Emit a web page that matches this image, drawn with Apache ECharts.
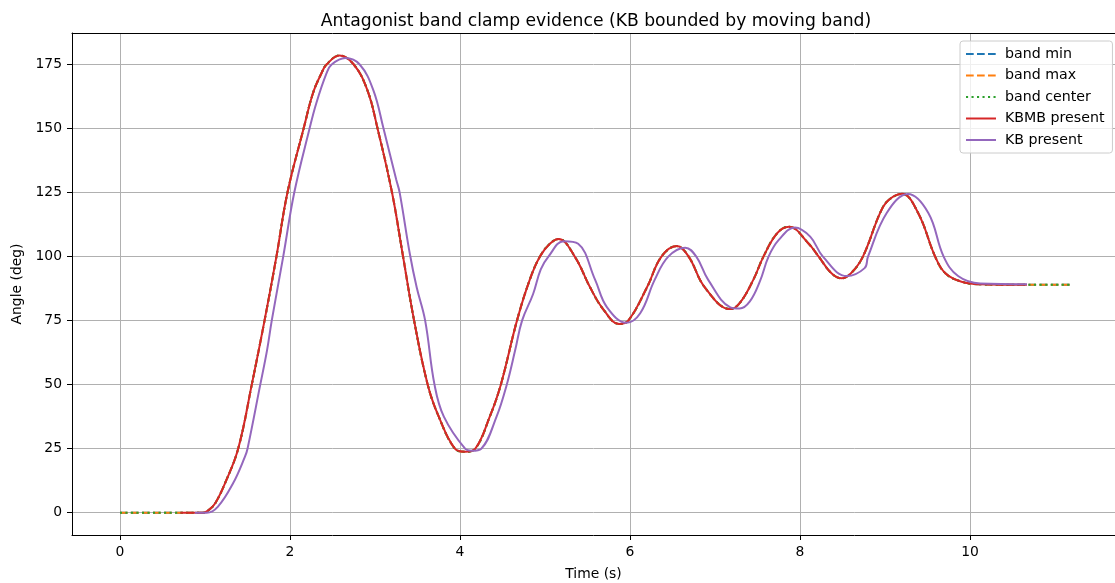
<!DOCTYPE html>
<html>
<head>
<meta charset="utf-8">
<script src="https://cdn.jsdelivr.net/npm/echarts@6/dist/echarts.min.js"></script>
<style>
  html, body { margin: 0; padding: 0; background: #fff; }
  #chart { width: 1115px; height: 583px; }
</style>
</head>
<body>
<div id="chart"></div>
<script>
// values (time in s, angle in deg)
const kbmbTime = [0.71, 0.98, 1.05, 1.12, 1.235, 1.39, 1.55, 1.70, 1.84, 1.97, 2.16, 2.27, 2.37, 2.43, 2.58, 2.75, 2.91,
  3.03, 3.20, 3.33, 3.46, 3.62, 3.75, 3.94, 4.06, 4.18, 4.35, 4.48, 4.67, 4.82, 4.94, 5.06, 5.16, 5.35, 5.53, 5.69,
  5.87, 5.98, 6.20, 6.37, 6.55, 6.69, 6.88, 7.18, 7.29, 7.45, 7.57, 7.73, 7.87, 8.10, 8.22, 8.37, 8.49, 8.60, 8.74,
  8.94, 9.04, 9.20, 9.39, 9.59, 9.71, 9.90, 10.12, 10.67];
const kbmbAngle = [0, 0, 1.2, 3.7, 11.5, 25, 50, 75, 100, 125, 150, 163.8, 171.6, 175, 178.5, 175, 165,
  150, 125, 100, 75, 50, 37.5, 25, 23.8, 25, 37.5, 50, 75, 90.9, 100, 105.1, 106.9, 100, 88, 79.2,
  73.7, 75, 88, 100, 104.1, 100, 88, 79.5, 81.8, 90.9, 100, 109.1, 111.7, 105.1, 100, 93.5, 91.5, 93.5, 100,
  116.9, 122, 124.5, 117, 100, 93.5, 90.2, 89.2, 89];

const kbTime = [0.88, 1.02, 1.15, 1.33, 1.47, 1.50, 1.65, 1.73, 1.785, 1.92, 2.05, 2.23, 2.31, 2.43, 2.49, 2.65, 2.82,
  2.98, 3.10, 3.25, 3.29, 3.41, 3.49, 3.59, 3.70, 3.81, 4.06, 4.14, 4.25, 4.43, 4.55, 4.65, 4.73, 4.86, 4.95, 5.04,
  5.22, 5.39, 5.59, 5.73, 5.96, 6.12, 6.29, 6.45, 6.65, 6.78, 6.92, 7.18, 7.29, 7.41, 7.53, 7.63, 7.75, 7.94, 8.12,
  8.27, 8.55, 8.76, 8.80, 9.02, 9.27, 9.51, 9.69, 9.86, 10.12, 10.67];
const kbAngle = [0, 0, 2.3, 11.5, 21.9, 25, 50, 63.5, 75, 100, 125, 150, 160, 171.6, 175, 177.5, 175,
  165, 150, 130, 125, 101, 88, 75, 50, 37.5, 25, 24.2, 25, 37.5, 50, 63.6, 75, 85.4, 95, 100,
  106, 105, 90.9, 80.2, 74.2, 77.9, 90.9, 100, 103.5, 100, 90.9, 80.2, 79.7, 82.5, 90.5, 100, 106.5, 111.4, 107.8,
  100, 92.4, 95.5, 100, 117, 124.4, 117, 100, 92.4, 89.5, 89.2];

// band is only visible where the KBMB trace is absent
const bandStart = [0, 0];
const bandEnd = [11.2, 89];

const xTicks = [0, 2, 4, 6, 8, 10];
const yTicks = [0, 25, 50, 75, 100, 125, 150, 175];

const pairs = (ts, vs) => ts.map((t, i) => [t, vs[i]]);
const kbmbData = pairs(kbmbTime, kbmbAngle);
const kbData = pairs(kbTime, kbAngle);
const bandData = [bandStart, ...kbmbData, bandEnd];

const FONT = 'DejaVu Sans';
const X_MIN = -0.565;
const X_MAX = 11.706;
const chart = echarts.init(document.getElementById('chart'));

const lineSeries = (name, data, color, type, z) => ({
  name,
  type: 'line',
  data,
  smooth: 0.4,
  symbol: 'none',
  z,
  lineStyle: { color, width: 2, type },
  itemStyle: { color },
  emphasis: { disabled: true },
  animation: false,
});

const axisText = { fontFamily: FONT, fontSize: 13.9, color: '#000' };

chart.setOption({
  animation: false,
  title: {
    text: 'Antagonist band clamp evidence (KB bounded by moving band)',
    left: 591,
    top: 8,
    textAlign: 'center',
    textStyle: { fontFamily: FONT, fontSize: 17.2, fontWeight: 'normal', color: '#000' },
  },
  grid: {
    left: 72,
    top: 33,
    right: 0,
    bottom: 48,
    outerBoundsMode: 'none',
  },
  legend: {
    orient: 'vertical',
    left: 960,
    top: 41,
    itemWidth: 30,
    itemHeight: 10,
    itemGap: 7.5,
    padding: [6, 8, 6, 5],
    backgroundColor: 'rgba(255,255,255,0.8)',
    borderColor: '#cccccc',
    borderWidth: 1,
    borderRadius: 3,
    itemStyle: { color: 'rgba(0,0,0,0)', borderWidth: 0, opacity: 0 },
    textStyle: { fontFamily: FONT, fontSize: 14.2, color: '#000', padding: [0, 0, 0, 4] },
    data: ['band min', 'band max', 'band center', 'KBMB present', 'KB present'],
  },
  xAxis: [
    {
      type: 'value',
      min: X_MIN,
      max: X_MAX,
      minInterval: 2,
      maxInterval: 2,
      name: 'Time (s)',
      nameLocation: 'middle',
      nameGap: 32,
      nameTextStyle: axisText,
      axisLine: { show: true, onZero: false, lineStyle: { color: '#000', width: 1 } },
      axisTick: { show: true, length: 5, lineStyle: { color: '#000' }, customValues: xTicks },
      axisLabel: { ...axisText, margin: 10, customValues: xTicks },
      splitLine: { show: true, lineStyle: { color: '#b0b0b0', width: 1 } },
    },
    {
      // top spine only
      type: 'value',
      position: 'top',
      min: X_MIN,
      max: X_MAX,
      axisLine: { show: true, onZero: false, lineStyle: { color: '#000', width: 1 } },
      axisTick: { show: false },
      axisLabel: { show: false },
      splitLine: { show: false },
    },
  ],
  yAxis: {
    type: 'value',
    min: -8.7,
    max: 187.3,
    minInterval: 25,
    maxInterval: 25,
    name: 'Angle (deg)',
    nameLocation: 'middle',
    nameGap: 31,
    nameTextStyle: axisText,
    axisLine: { show: true, onZero: false, lineStyle: { color: '#000', width: 1 } },
    axisTick: { show: true, length: 5, lineStyle: { color: '#000' }, customValues: yTicks },
    axisLabel: { ...axisText, margin: 10, customValues: yTicks },
    splitLine: { show: true, lineStyle: { color: '#b0b0b0', width: 1 } },
  },
  series: [
    lineSeries('band min', bandData, '#1f77b4', [7.7, 3.3], 2),
    lineSeries('band max', bandData, '#ff7f0e', [7.7, 3.3], 3),
    lineSeries('band center', bandData, '#2ca02c', [2.1, 3.4], 4),
    lineSeries('KBMB present', kbmbData, '#d62728', 'solid', 5),
    lineSeries('KB present', kbData, '#9467bd', 'solid', 6),
  ],
});
</script>
</body>
</html>
